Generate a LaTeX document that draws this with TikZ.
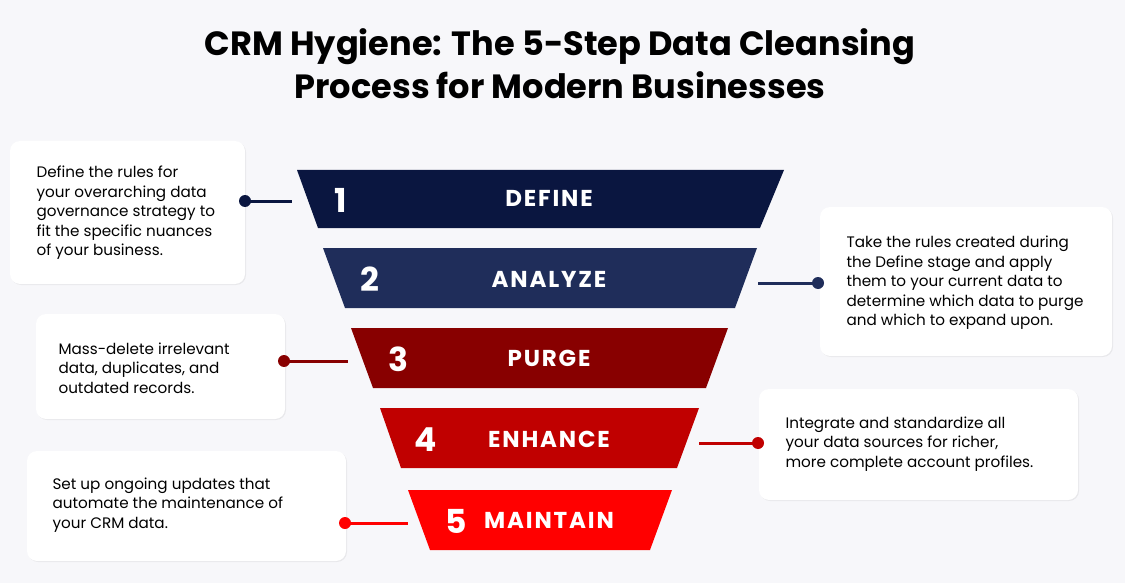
\documentclass[tikz,border=0pt]{standalone}
\usepackage{fontspec}
\setmainfont{Poppins}
\newfontfamily\spacedfont{Poppins}[LetterSpace=8]
\usetikzlibrary{positioning,shadows}
\definecolor{bgc}{HTML}{F7F7FA}
\definecolor{cA}{HTML}{0A1640}
\definecolor{cB}{HTML}{1F2D5A}
\definecolor{cC}{HTML}{880000}
\definecolor{cD}{HTML}{C00000}
\definecolor{cE}{HTML}{FF0000}
\tikzset{
  infobox/.style={fill=white, rounded corners=10pt, drop shadow={opacity=0.12,shadow xshift=1pt,shadow yshift=-1pt}},
  infotext/.style={align=left, font=\fontsize{15.2}{19.5}\selectfont, text=black, anchor=west},
  steptxt/.style={text=white, font=\spacedfont\bfseries\fontsize{23}{23}\selectfont},
  numtxt/.style={text=white, font=\bfseries\fontsize{33}{33}\selectfont},
  link/.style={line width=3pt},
}
\begin{document}
\begin{tikzpicture}[x=1pt,y=-1pt]
\fill[bgc] (0,0) rectangle (1125,583);
\useasboundingbox (0,0) rectangle (1125,583);

\node (title) at (560,64) [align=center, font=\bfseries\fontsize{33.6}{43}\selectfont]
  {CRM Hygiene: The 5-Step Data Cleansing\\Process for Modern Businesses};

% funnel
\fill[cA] (297,170) -- (784,170) -- (760,228) -- (318,228) -- cycle;
\fill[cB] (323,248) -- (757,248) -- (735,308) -- (345,308) -- cycle;
\fill[cC] (351,328) -- (728,328) -- (706,388) -- (373,388) -- cycle;
\fill[cD] (380,408) -- (699,408) -- (677,468) -- (401,468) -- cycle;
\fill[cE] (408,490) -- (672,490) -- (650,550) -- (430,550) -- cycle;

\node[numtxt] (n1) at (341,200) {1}; \node[steptxt] (s1) at (549,198) {DEFINE};
\node[numtxt] (n2) at (370,279) {2}; \node[steptxt] (s2) at (549,279) {ANALYZE};
\node[numtxt] (n3) at (398,359) {3}; \node[steptxt] (s3) at (549,358) {PURGE};
\node[numtxt] (n4) at (426,440) {4}; \node[steptxt] (s4) at (549,439) {ENHANCE};
\node[numtxt] (n5) at (456,521) {5}; \node[steptxt] (s5) at (549,520) {MAINTAIN};

% boxes
\fill[infobox] (10,141) rectangle (245,284);
\fill[infobox] (820,207) rectangle (1112,356);
\fill[infobox] (36,314) rectangle (285,419);
\fill[infobox] (759,389) rectangle (1078,500);
\fill[infobox] (27,451) rectangle (346,561);

\node[infotext] (t1) at (33,213) {Define the rules for\\your overarching data\\governance strategy to\\fit the specific nuances\\of your business.};
\node[infotext] (t2) at (843,283) {Take the rules created during\\the Define stage and apply\\them to your current data to\\determine which data to purge\\and which to expand upon.};
\node[infotext] (t3) at (55,368) {Mass-delete irrelevant\\data, duplicates, and\\outdated records.};
\node[infotext] (t4) at (782,444) {Integrate and standardize all\\your data sources for richer,\\more complete account profiles.};
\node[infotext] (t5) at (49,505) {Set up ongoing updates that\\automate the maintenance of\\your CRM data.};

% connectors
\coordinate (d1) at (245,201); \coordinate (e1) at (292,201);
\coordinate (d2) at (818,283); \coordinate (e2) at (758,283);
\coordinate (d3) at (284,361); \coordinate (e3) at (348,361);
\coordinate (d4) at (758,443); \coordinate (e4) at (699,443);
\coordinate (d5) at (345,523); \coordinate (e5) at (408,523);
\foreach \i/\c in {1/cA,2/cB,3/cC,4/cD,5/cE}{
  \draw[link,\c] (d\i) -- (e\i);
  \fill[\c] (d\i) circle (6pt);
}
\end{tikzpicture}
\end{document}
